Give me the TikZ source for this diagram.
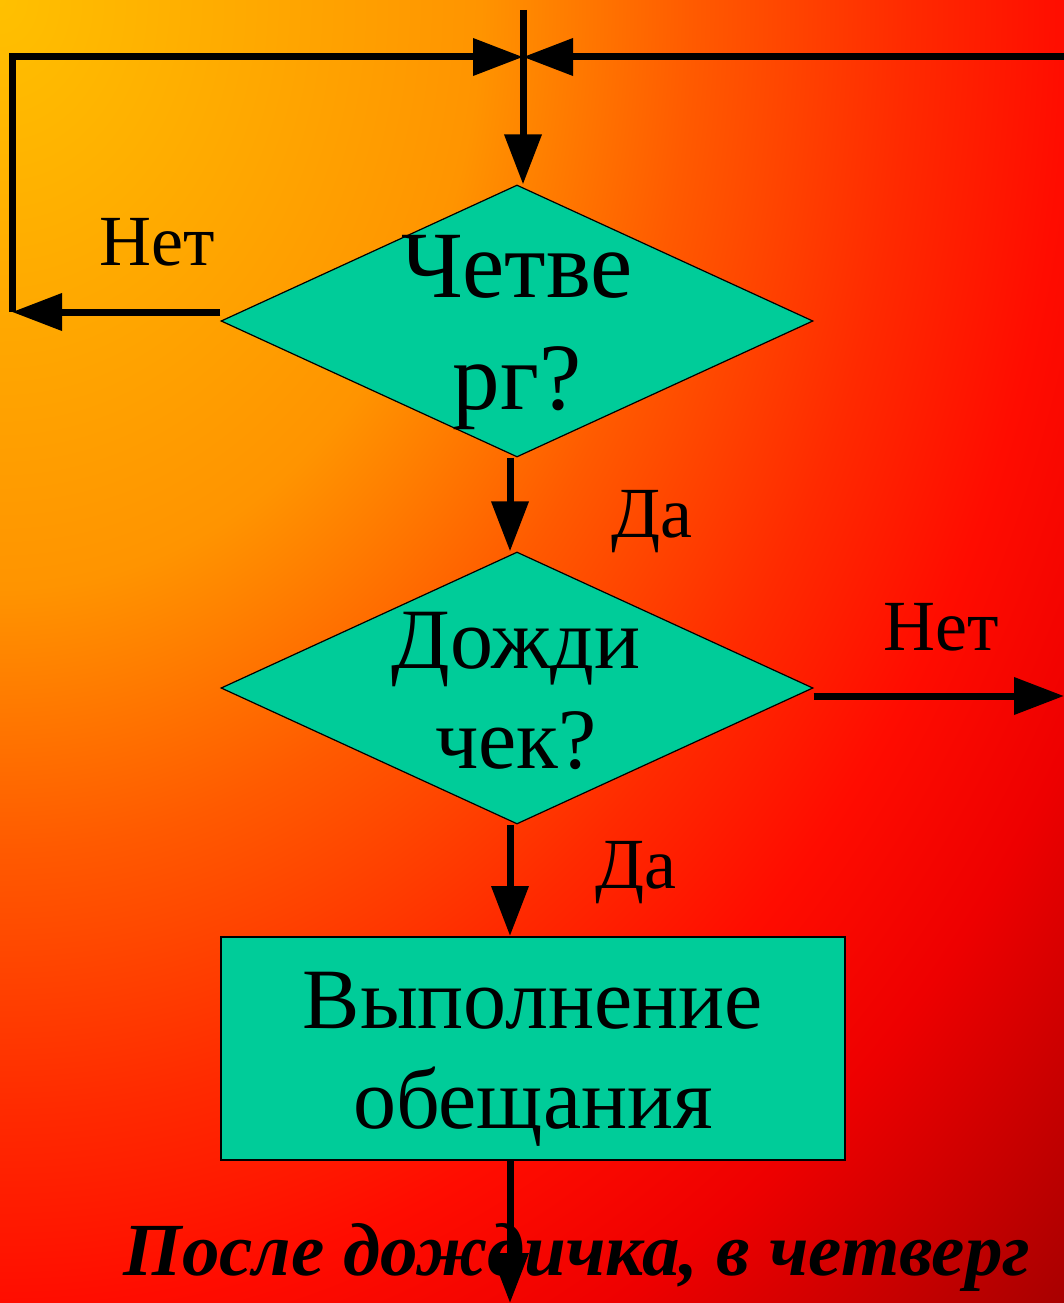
\documentclass[tikz,border=0pt]{standalone}
\usepackage{fontspec}
\setmainfont{Liberation Serif}
\usetikzlibrary{arrows.meta,shapes.geometric}

\definecolor{blockteal}{HTML}{00CC99}
\definecolor{fireA}{HTML}{FFC000}
\definecolor{fireB}{HTML}{FF9400}
\definecolor{fireC}{HTML}{FF5A00}
\definecolor{fireD}{HTML}{FF2A00}
\definecolor{fireE}{HTML}{FF0C00}
\definecolor{fireF}{HTML}{EE0000}
\definecolor{fireG}{HTML}{A50000}
\pgfdeclareradialshading{firebg}{\pgfpoint{0bp}{0bp}}{color(0bp)=(fireA); color(45bp)=(fireB); color(65bp)=(fireC); color(85bp)=(fireD); color(100bp)=(fireE); color(115bp)=(fireF); color(142bp)=(fireG)}

\tikzset{
	flow/.style={line width=7pt, -{Triangle[length=50pt,width=36pt]}},
	decision/.style={diamond, draw=black, line width=1.2pt, fill=blockteal, inner sep=0pt, minimum width=592pt, minimum height=272pt},
	action/.style={rectangle, draw=black, line width=2pt, fill=blockteal, inner sep=0pt, minimum width=624pt, minimum height=223pt},
	bigtext/.style={inner sep=0pt, align=center, font=\fontsize{95}{112}\selectfont},
	midtext/.style={inner sep=0pt, align=center, font=\fontsize{86}{100}\selectfont},
	answer/.style={inner sep=0pt, font=\fontsize{72}{80}\selectfont},
	motto/.style={inner sep=0pt, font=\fontsize{75}{80}\selectfont\bfseries\itshape}
}

\begin{document}
\begin{tikzpicture}[x=1pt, y=-1pt]
		%%%%% BACKGROUND %%%%%
		\useasboundingbox (0,0) rectangle (1064,1303);
		\begin{scope}
			\clip (0,0) rectangle (1064,1303);
			\begin{scope}[transform canvas={xscale=10.64, yscale=13.03}]
				\node[inner sep=0pt] (fire) at (0,0) {\pgfuseshading{firebg}};
			\end{scope}
		\end{scope}
		
		%%%%% SHAPES %%%%%
		\node[decision] (thu) at (517,321) {};
		\node[decision] (rain) at (517,688) {};
		\node[action] (act) at (533,1048.5) {};
		
		%%%%% CONNECTORS %%%%%
		\coordinate (topin) at (523,10);
		\coordinate (merge) at (523,57);
		\coordinate (leftturn) at (12,57);
		\coordinate (leftend) at (12,312);
		\coordinate (rightin) at (1064,57);
		\coordinate (rightout) at (1064,696);
		\coordinate (exit) at (510,1303);
		
		\draw[flow] (topin) -- (topin |- thu.north);
		\draw[flow] ([yshift=9pt]thu.west) -- (leftend);
		\draw[flow] (leftend) -- (leftturn) -- (merge);
		\draw[flow] (rightin) -- (merge);
		\draw[flow] (thu.south -| exit) -- (rain.north -| exit);
		\draw[flow] ([yshift=-8pt]rain.east) -- (rightout);
		\draw[flow] (rain.south -| exit) -- (act.north -| exit);
		
		%%%%% TEXT %%%%%
		\node[bigtext] (thutext) at (517,333) {Четве\\рг?};
		\node[midtext] (raintext) at (516,691) {Дожди\\чек?};
		\node[midtext] (acttext) at (533,1059) {Выполнение\\обещания};
		
		\node[answer, anchor=base] (no1) at (157,265) {Нет};
		\node[answer, anchor=base] (yes1) at (652,537) {Да};
		\node[answer, anchor=base] (no2) at (941,650) {Нет};
		\node[answer, anchor=base] (yes2) at (636,888) {Да};
		
		\node[motto, anchor=base] (motto) at (577,1275) {После дождичка, в четверг};
		
		\draw[flow] (act.south -| exit) -- (exit);
		
		%%%%% END %%%%%
	\end{tikzpicture}
\end{document}
